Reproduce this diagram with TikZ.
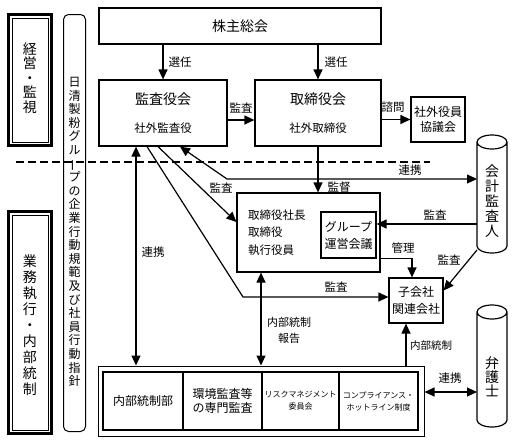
\documentclass[tikz,border=0pt]{standalone}
\usepackage{fontspec}
\setmainfont{Noto Sans CJK JP}
\usepackage{graphicx}
\usetikzlibrary{arrows.meta,calc}
\newcommand{\vbar}{\raisebox{0pt}[0.88em][0.12em]{\rotatebox[origin=c]{90}{ー}}}
\tikzset{
  box/.style={draw, line width=1.2pt, inner sep=0pt},
  tip/.tip={Triangle[length=10pt,width=9pt]},
  conn/.style={line width=1.2pt, -tip},
  dconn/.style={line width=1.2pt, tip-tip},
  lbl/.style={font=\fontsize{11.5}{13}\selectfont, inner sep=0pt},
  title/.style={font=\fontsize{14}{16}\selectfont, inner sep=0pt},
  sub/.style={font=\fontsize{11.5}{13}\selectfont, inner sep=0pt},
  two/.style={font=\fontsize{12}{17}\selectfont, align=center, inner sep=0pt},
  vt/.style={align=center, inner sep=0pt},
  cell/.style={draw, line width=1.5pt, minimum height=58pt, inner sep=0pt, align=center},
  cyl/.style={line width=1.2pt},
  ghost/.style={inner sep=0pt, outer sep=0pt},
}
\begin{document}
\begin{tikzpicture}[x=1pt,y=-1pt]
\useasboundingbox (0,0) rectangle (514,442);

% left frames
\node[draw, line width=3pt, minimum width=43pt, minimum height=131pt] (keiei) at (30,80) {};
\draw[line width=0.8pt] ([shift={(5pt,-5pt)}]keiei.north west) rectangle ([shift={(-5pt,5pt)}]keiei.south east);
\node[vt, font=\fontsize{14}{14.5}\selectfont] (keieiT) at (30,78) {経\\営\\・\\監\\視};

\node[draw, line width=3pt, minimum width=43pt, minimum height=222pt] (gyomu) at (30,322.5) {};
\draw[line width=0.8pt] ([shift={(5pt,-5pt)}]gyomu.north west) rectangle ([shift={(-5pt,5pt)}]gyomu.south east);
\node[vt, font=\fontsize{14}{16}\selectfont] (gyomuT) at (30,325) {業\\務\\執\\行\\・\\内\\部\\統\\制};

\node[draw, line width=1pt, rounded corners=5pt, minimum width=22pt, minimum height=417pt] (rule) at (74.5,223) {};
\node[vt, font=\fontsize{12}{13.6}\selectfont] (ruleT) at (74.5,232) {日\\清\\製\\粉\\グ\\ル\\\vbar\\プ\\の\\企\\業\\行\\動\\規\\範\\及\\び\\社\\員\\行\\動\\指\\針};

% main boxes
\node[box, minimum width=282pt, minimum height=36pt] (kabu) at (240,26) {};
\node[title] (kabuT) at (kabu.center) {株主総会};

\node[box, minimum width=128pt, minimum height=66pt] (kansa) at (163,113) {};
\node[title] (kansaT) at ([yshift=14pt]kansa.center) {監査役会};
\node[sub] (kansaS) at ([yshift=-15pt]kansa.center) {社外監査役};

\node[box, minimum width=126pt, minimum height=66pt] (tori) at (318,113) {};
\node[title] (toriT) at ([yshift=14pt]tori.center) {取締役会};
\node[sub] (toriS) at ([yshift=-15pt]tori.center) {社外取締役};

\node[box, minimum width=54pt, minimum height=45pt, font=\fontsize{12}{14.5}\selectfont, align=center] (shagai) at (438,119.5) {社外役員\\協議会};

\node[box, minimum width=143pt, minimum height=79pt] (pres) at (308.5,232.5) {};
\node[anchor=west, inner sep=0pt, align=left, font=\fontsize{11.5}{17.5}\selectfont] (presT) at (248,232.5) {取締役社長\\取締役\\執行役員};
\node[box, minimum width=55pt, minimum height=46pt, two] (group) at (348.5,235) {グループ\\運営会議};

\node[box, minimum width=54pt, minimum height=45pt, two] (kogaisha) at (416,300.5) {子会社\\関連会社};

% bottom box
\node[draw, line width=1pt, minimum width=326pt, minimum height=70pt] (bottom) at (261,401) {};
\node[cell, minimum width=80pt, font=\fontsize{12}{14}\selectfont] (c1) at (143,401) {内部統制部};
\node[cell, minimum width=79pt, font=\fontsize{12}{14}\selectfont] (c2) at (222.5,401) {環境監査等\\の専門監査};
\node[cell, minimum width=77pt, font=\fontsize{8}{12}\selectfont] (c3) at (300.5,401) {リスクマネジメント\\委員会};
\node[cell, minimum width=79pt, font=\fontsize{8}{12}\selectfont] (c4) at (378.5,401) {コンプライアンス・\\ホットライン制度};

% cylinders
\node[ghost, minimum width=30pt, minimum height=118pt] (cpa) at (492,194) {};
\draw[cyl] ([yshift=-7pt]cpa.north west) -- ([yshift=7pt]cpa.south west)
  arc[start angle=180,end angle=360,x radius=15pt,y radius=7pt]
  -- ([yshift=-7pt]cpa.north east)
  arc[start angle=0,end angle=360,x radius=15pt,y radius=7pt];
\node[vt, font=\fontsize{14}{15}\selectfont] (cpaT) at (492,201) {会\\計\\監\\査\\人};

\node[ghost, minimum width=30pt, minimum height=122pt] (lawyer) at (492,366) {};
\draw[cyl] ([yshift=-7pt]lawyer.north west) -- ([yshift=7pt]lawyer.south west)
  arc[start angle=180,end angle=360,x radius=15pt,y radius=7pt]
  -- ([yshift=-7pt]lawyer.north east)
  arc[start angle=0,end angle=360,x radius=15pt,y radius=7pt];
\node[vt, font=\fontsize{14}{14}\selectfont] (lawyerT) at (492,377) {弁\\護\\士};

% dashed separator
\coordinate (dsA) at (16,162);
\coordinate (dsB) at (430,162);
\draw[line width=1.2pt, dash pattern=on 8pt off 4pt] (dsA) -- (dsB);

% connectors
\draw[conn] (kansa.north |- kabu.south) -- (kansa.north);
\draw[conn] (tori.north |- kabu.south) -- (tori.north);
\coordinate (ktA) at ([yshift=-7pt]kansa.east);
\draw[conn] (ktA) -- (ktA -| tori.west);
\draw[conn] (tori.east |- shagai.west) -- (shagai.west);
\draw[conn] (tori.south) -- (tori.south |- pres.north);

\coordinate (lkA) at ([xshift=17pt]kansa.south);
\coordinate (lkB) at (227,179);
\draw[dconn] (lkA) -- (lkB) -- (lkB -| cpa.west);

\coordinate (kaA) at ([xshift=-5pt]kansa.south);
\coordinate (kaB) at ([yshift=10.5pt]pres.west);
\draw[conn] (kaA) -- (kaB);

\coordinate (kbA) at ([xshift=-16pt]kansa.south);
\coordinate (kbB) at (243,297);
\draw[conn] (kbA) -- (kbB) -- (kbB -| kogaisha.west);

\coordinate (rA) at ([xshift=-27pt]kansa.south);
\draw[dconn] (rA) -- (rA |- bottom.north);

\draw[dconn] (pres.south -| bottom.north) -- (bottom.north);

\draw[conn] (pres.east |- group.south) -| ([xshift=-4pt]kogaisha.north);

\coordinate (gA) at ([yshift=11pt]group.east);
\draw[conn] (gA -| cpa.west) -- (gA);

\draw[conn] ([yshift=3pt]cpa.south west) -- ([yshift=10pt]kogaisha.east);

\coordinate (nA) at ([xshift=-10pt]kogaisha.south);
\draw[conn] (nA |- bottom.north) -- (nA);

\coordinate (lwA) at ([yshift=9pt]bottom.east);
\draw[dconn] (lwA) -- (lwA -| lawyer.west);

% labels
\node[lbl] (l1) at (180,62) {選任};
\node[lbl] (l2) at (336,62) {選任};
\node[lbl] (l3) at (241,108) {監査};
\node[lbl] (l4) at (393,107) {諮問};
\node[lbl] (l5) at (410,170) {連携};
\node[lbl] (l6) at (339,187) {監督};
\node[lbl] (l7) at (221,188) {監査};
\node[lbl] (l8) at (153,252) {連携};
\node[lbl] (l9) at (435,215) {監査};
\node[lbl] (l10) at (403,248) {管理};
\node[lbl] (l11) at (449,260) {監査};
\node[lbl] (l12) at (336,287) {監査};
\node[lbl, align=center, font=\fontsize{11}{16}\selectfont] (l13) at (289,330) {内部統制\\報告};
\node[lbl, font=\fontsize{10.5}{12}\selectfont] (l14) at (431,346) {内部統制};
\node[lbl] (l15) at (450,378) {連携};
\end{tikzpicture}
\end{document}
